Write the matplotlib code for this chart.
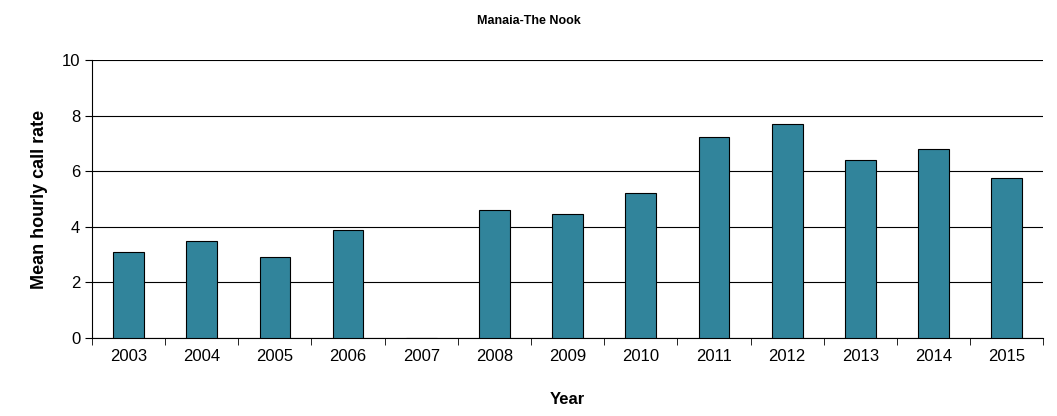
import matplotlib
matplotlib.use('Agg')
import numpy as np
import matplotlib.pyplot as plt

years = ['2003', '2004', '2005', '2006', '2007', '2008', '2009',
         '2010', '2011', '2012', '2013', '2014', '2015']
call_rate = [3.1, 3.5, 2.9, 3.9, 0, 4.6, 4.45, 5.2, 7.25, 7.7, 6.4, 6.8, 5.75]

plt.rcParams['font.family'] = ['Liberation Sans', 'DejaVu Sans']

fig = plt.figure(figsize=(10.57, 4.16), dpi=100)
ax = fig.add_axes([0.087, 0.1875, 0.90, 0.668])

x = np.arange(len(years))
ax.bar(x, call_rate, width=0.42, color='#31849B', edgecolor='black', linewidth=0.8, zorder=3)

ax.set_xlim(-0.5, len(years) - 0.5)
ax.set_ylim(0, 10)
ax.set_yticks(np.arange(0, 11, 2))
ax.yaxis.grid(True, color='black', linewidth=0.8, zorder=0)

ax.set_xticks(x)
ax.set_xticklabels(years, fontsize=12)
ax.set_xticks(np.arange(-0.5, len(years), 1), minor=True)
ax.tick_params(axis='x', which='major', length=0, pad=8)
ax.tick_params(axis='x', which='minor', length=5, direction='out')
ax.tick_params(axis='y', labelsize=12, length=5)

for s in ['top', 'right']:
    ax.spines[s].set_visible(False)

ax.set_ylabel('Mean hourly call rate', fontsize=13, fontweight='bold', labelpad=10)
ax.set_xlabel('Year', fontsize=12, fontweight='bold', labelpad=20)
fig.suptitle('Manaia-The Nook', fontsize=9, fontweight='bold', y=0.965)

fig.savefig('out.png', dpi=100)
